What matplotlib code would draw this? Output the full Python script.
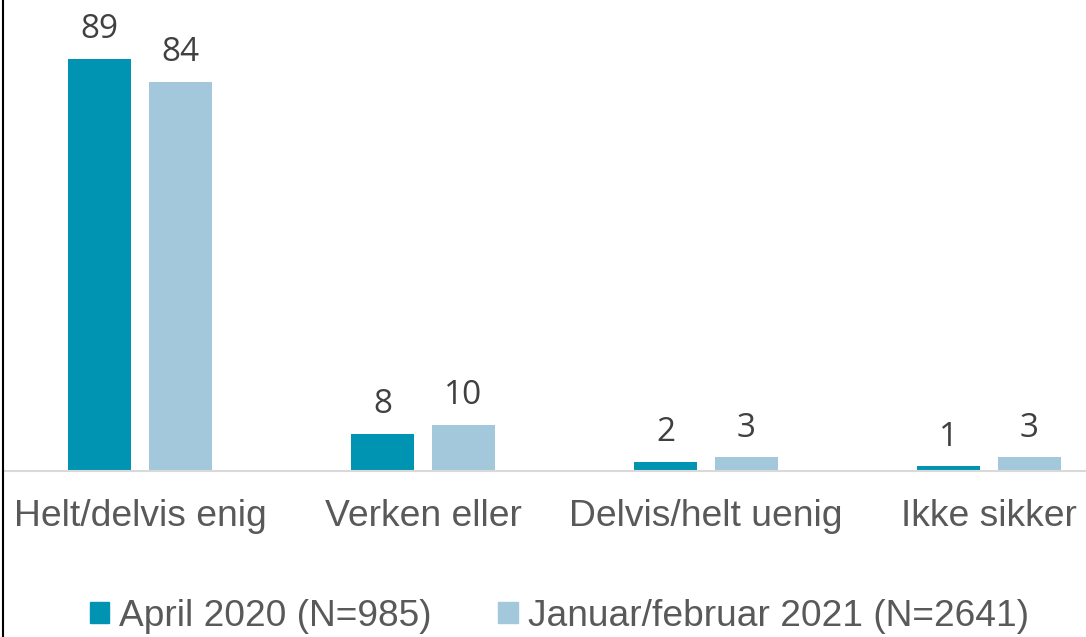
import matplotlib
matplotlib.use('Agg')
from matplotlib import pyplot as plt
from matplotlib.patches import Patch
import numpy as np

# Data
categories = ['Helt/delvis enig', 'Verken eller', 'Delvis/helt uenig', 'Ikke sikker']
series_names = ['April 2020 (N=985)', 'Januar/februar 2021 (N=2641)']
april = [89, 8, 2, 1]
janfeb = [84, 10, 3, 3]

colors = ['#0093B2', '#A3C8DB']
label_color = '#404040'
text_color = '#595959'

fig = plt.figure(figsize=(10.86, 6.37), dpi=100)
ax = fig.add_axes([3 / 1086, 1 - 471 / 637, 1 - 3 / 1086, 471 / 637])

x = np.arange(len(categories))
width = 0.2226
offset = 0.143

for vals, off, col in zip([april, janfeb], [-offset, offset], colors):
    bars = ax.bar(x + off, vals, width=width, color=col, zorder=2)
    for b, v in zip(bars, vals):
        ax.annotate(str(v), (b.get_x() + b.get_width() / 2, v),
                    xytext=(0, 9), textcoords='offset points',
                    ha='center', va='bottom', fontsize=24,
                    family='Open Sans', color=label_color)

ax.set_xlim(-0.484, 3.343)
ax.set_ylim(0, 101.7)
ax.set_xticks([])
ax.set_yticks([])
for s in ['top', 'right', 'left']:
    ax.spines[s].set_visible(False)
ax.spines['bottom'].set_color('#D9D9D9')
ax.spines['bottom'].set_linewidth(1.5)

# category labels
for xi, cat in zip(x, categories):
    ax.annotate(cat, (xi, 0), xytext=(0, -33), textcoords='offset points',
                ha='center', va='center', fontsize=26.8,
                family='Liberation Sans', color=text_color)

# left frame line
fig.add_artist(plt.Line2D([2.5 / 1086, 2.5 / 1086], [0, 1], color='black',
                          linewidth=1.5, transform=fig.transFigure))

handles = [Patch(color=c) for c in colors]
fig.legend(handles, series_names, loc='center', bbox_to_anchor=(0.515, 1 - 616 / 637),
           ncol=2, frameon=False, handlelength=0.52, handleheight=0.52,
           handletextpad=0.27, columnspacing=1.8, borderpad=0,
           prop={'family': 'Liberation Sans', 'size': 26.7}, labelcolor=text_color)

fig.savefig('out.png', dpi=100)
